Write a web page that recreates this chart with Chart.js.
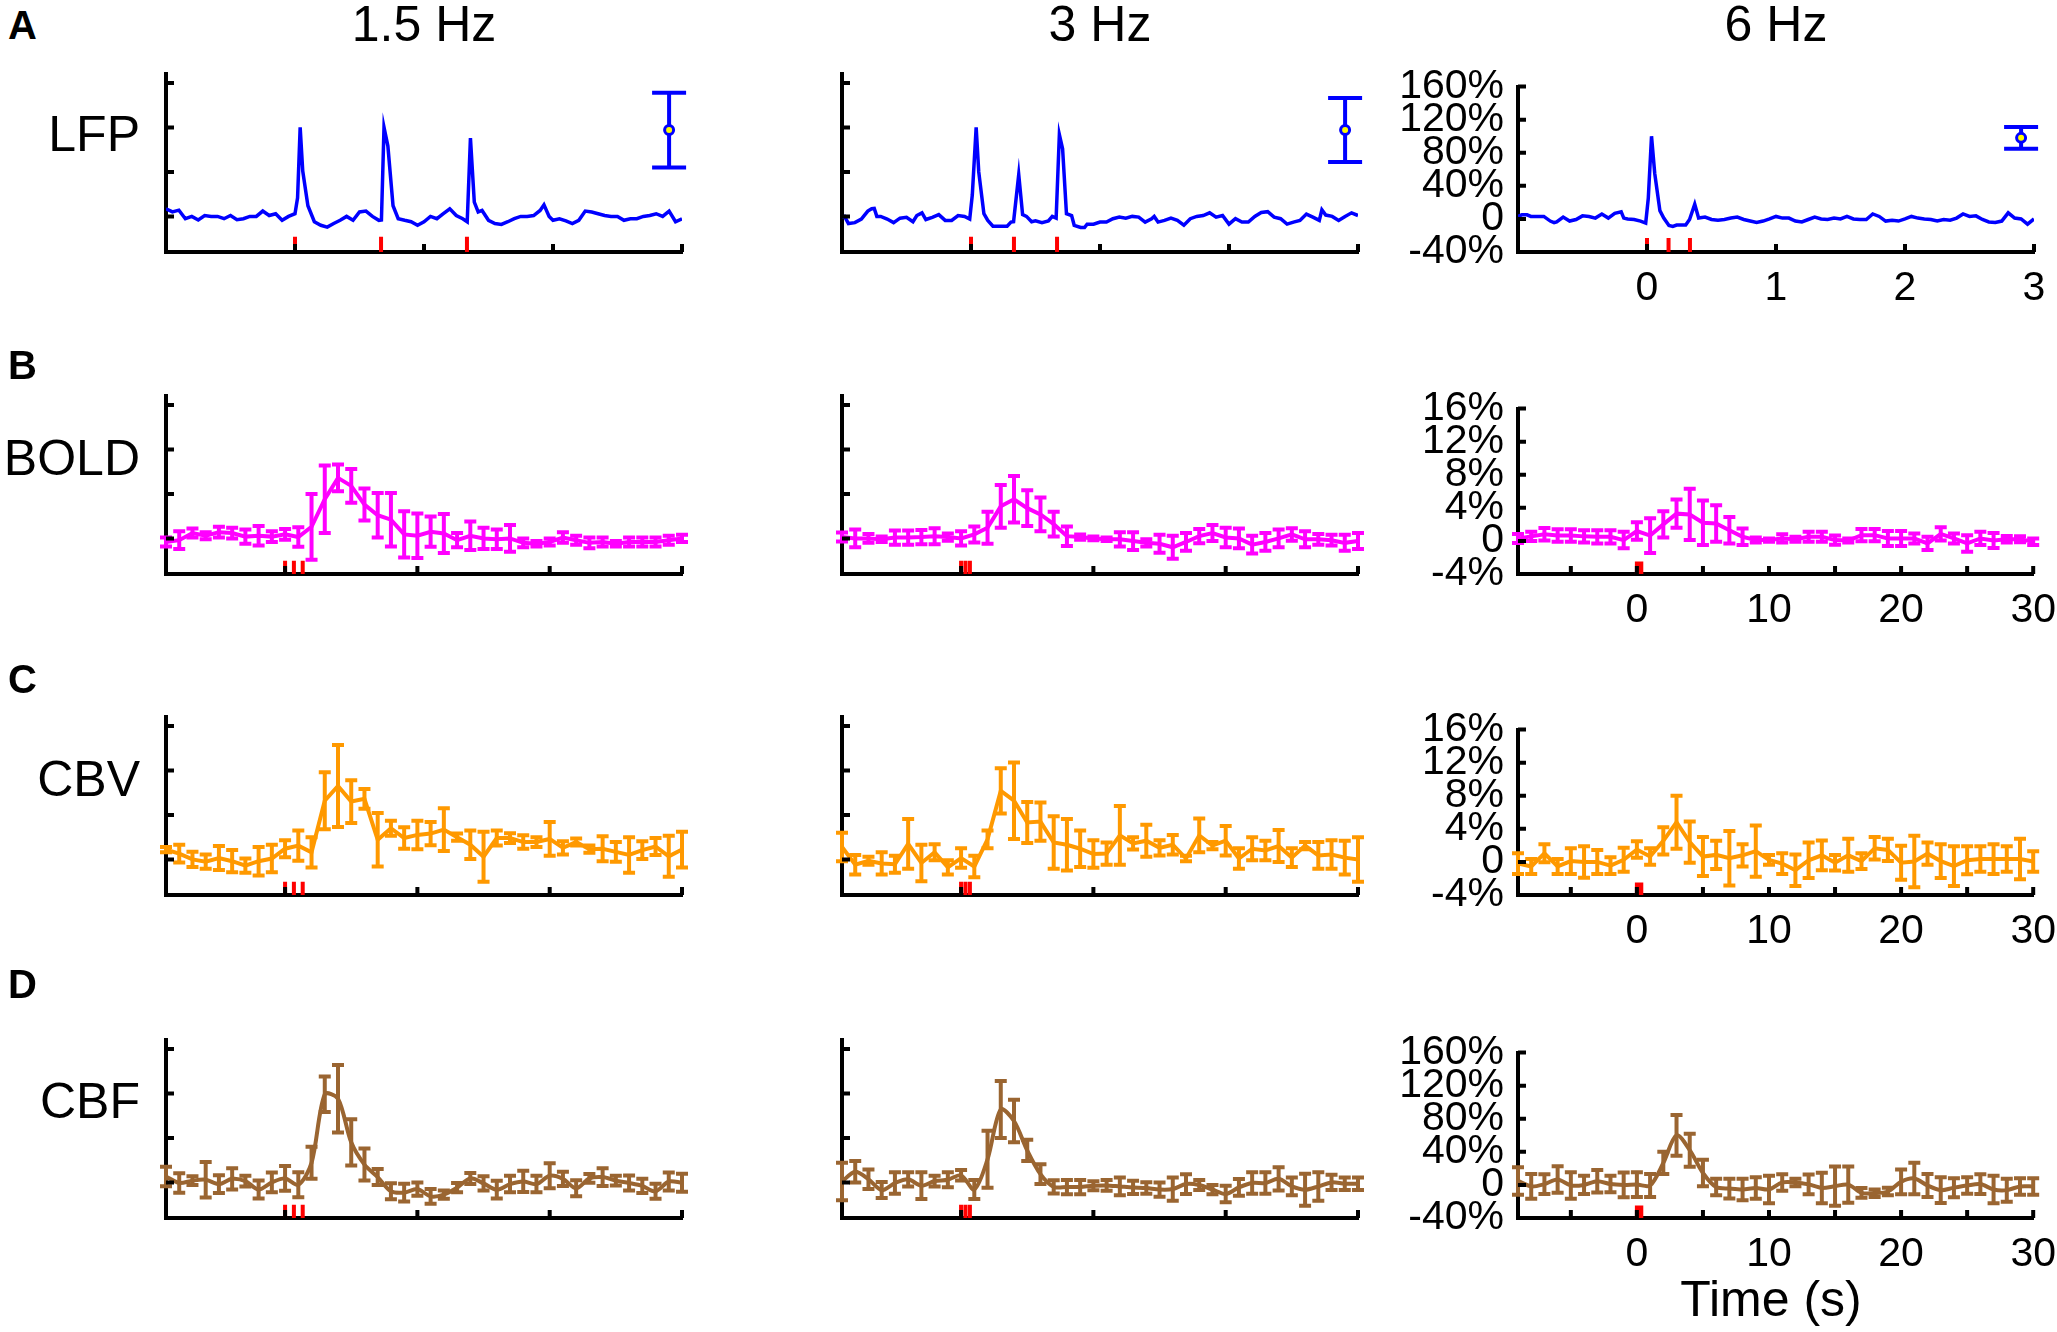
<!DOCTYPE html>
<html>
<head>
<meta charset="utf-8">
<script src="https://cdn.jsdelivr.net/npm/chart.js@4.4.1/dist/chart.umd.min.js"></script>
<style>
  body { margin: 0; background: #fff; width: 2057px; height: 1332px; position: relative; overflow: hidden;
         font-family: "Liberation Sans", Arial, sans-serif; }
  canvas { position: absolute; }
  .lbl { position: absolute; white-space: nowrap; line-height: 1; color: #000; }
  .letter { font-size: 40px; font-weight: bold; left: 8px; }
  .title { font-size: 50px; top: -1px; transform: translateX(-50%); }
  .rowname { font-size: 50px; left: 140px; transform: translateX(-100%); }
</style>
</head>
<body>
<script>
// LFP traces (% change), time in s
const lfpTime15 = [-1, -0.95, -0.9, -0.85, -0.8, -0.75, -0.7, -0.65, -0.6, -0.55, -0.5, -0.45, -0.4, -0.35, -0.3, -0.25, -0.2, -0.15, -0.1, -0.05, 0, 0.02, 0.04, 0.06, 0.1, 0.15, 0.2, 0.25, 0.3, 0.35, 0.4, 0.45, 0.5, 0.55, 0.6, 0.65, 0.67, 0.69, 0.72, 0.76, 0.8, 0.85, 0.9, 0.95, 1, 1.05, 1.1, 1.15, 1.2, 1.25, 1.3, 1.335, 1.36, 1.39, 1.42, 1.45, 1.5, 1.55, 1.6, 1.65, 1.7, 1.75, 1.8, 1.85, 1.9, 1.93, 1.97, 2, 2.05, 2.1, 2.15, 2.2, 2.25, 2.3, 2.35, 2.4, 2.45, 2.5, 2.55, 2.6, 2.65, 2.7, 2.75, 2.8, 2.85, 2.9, 2.95, 3];
const lfp15 = [8.5, 5, 7, -2.6, 0, -4, 1, 0, 0, -2.6, 1, -3.7, -2.6, 0, 0, 6, 1, 3, -4.4, 0, 3, 21, 100, 51, 12, -6, -10, -12, -8, -4.4, 0, -4.4, 5, 6, 0, -4.4, -4, 100, 79, 12, -2.6, -4.4, -6, -10, -6, 0, -2.6, 3, 8.5, 1, -2.6, -6, 88, 16, 5, 6.7, -4.4, -8, -9, -6, -2.6, 0, 0, 1, 6.7, 13, 0, -4.4, -2.6, -5, -8, -4.4, 6, 5, 3, 1, 0, 0, -4.4, -2.6, -2.6, 0, 1, 3, 0, 6, -6, -2.6];

const lfpTime3 = [-1, -0.98, -0.95, -0.9, -0.85, -0.8, -0.77, -0.75, -0.73, -0.7, -0.65, -0.6, -0.55, -0.5, -0.45, -0.42, -0.38, -0.35, -0.3, -0.25, -0.2, -0.15, -0.1, -0.05, -0.01, 0.01, 0.04, 0.06, 0.1, 0.13, 0.17, 0.2, 0.25, 0.28, 0.31, 0.33, 0.37, 0.4, 0.43, 0.47, 0.5, 0.55, 0.6, 0.63, 0.66, 0.685, 0.71, 0.74, 0.78, 0.8, 0.85, 0.88, 0.9, 0.95, 1, 1.05, 1.1, 1.15, 1.2, 1.25, 1.3, 1.35, 1.4, 1.42, 1.45, 1.5, 1.55, 1.6, 1.65, 1.7, 1.75, 1.8, 1.85, 1.9, 1.95, 2, 2.05, 2.1, 2.15, 2.2, 2.25, 2.3, 2.35, 2.4, 2.45, 2.5, 2.55, 2.6, 2.65, 2.7, 2.72, 2.75, 2.8, 2.85, 2.9, 2.95, 3];
const lfp3 = [-1, 0, -8, -7, -3, 6, 8.7, 9, 0, 0, -3, -7, -2, -1, -6, 1, 4, -3.5, -1, 2, -4.5, -4.5, 1, 0, -3, 24, 100, 50, 3, -4.5, -11, -11, -11, -11, -6.4, -6, 47, 2, 0, -6, -5, -7, -5, 0, -2, 92, 76, 3, 1, -10, -12.5, -12.5, -8.7, -8.7, -6.4, -6.4, -2.6, -0.8, -2, 0, -0.8, -6.4, -2.6, 0, -6.4, -4.5, -2, -4.5, -9.8, -2.6, 0, 1, 4, -0.8, 1, -8.7, -2.6, -6.4, -6.4, 0, 4.5, 5.3, -0.8, -2.6, -8.7, -6.4, -4.5, 2.6, -0.8, -4.5, 7.5, 1.5, 0, -4.5, 0, 4, 1];

const lfpTime6 = [-1, -0.97, -0.93, -0.9, -0.85, -0.8, -0.75, -0.72, -0.7, -0.65, -0.6, -0.55, -0.5, -0.45, -0.4, -0.35, -0.3, -0.25, -0.2, -0.18, -0.15, -0.1, -0.05, -0.01, 0.01, 0.035, 0.06, 0.1, 0.13, 0.17, 0.2, 0.23, 0.27, 0.3, 0.33, 0.37, 0.4, 0.45, 0.5, 0.55, 0.6, 0.65, 0.7, 0.75, 0.8, 0.85, 0.9, 0.95, 1, 1.05, 1.1, 1.15, 1.2, 1.25, 1.3, 1.35, 1.4, 1.45, 1.5, 1.55, 1.6, 1.65, 1.7, 1.75, 1.8, 1.85, 1.9, 1.95, 2, 2.05, 2.1, 2.15, 2.2, 2.25, 2.3, 2.35, 2.4, 2.45, 2.5, 2.55, 2.6, 2.65, 2.7, 2.75, 2.8, 2.85, 2.9, 2.95, 3];
const lfp6 = [3, 5, 5, 3, 3, 3, -2.6, -4.4, -3.7, 2.2, -2.6, -0.7, 3.7, 3, 1, 6, 1, 6.7, 8.5, 1, 0, -0.7, -2.6, -5, 25, 100, 55, 10, 1, -8, -9, -7.4, -7.4, -7.4, -0.7, 17.8, 1, 2.2, -0.7, -1.5, -0.7, 1, 2.2, -0.7, -2.6, -4.4, -2.6, 0, 3, 1, 1, -2.6, -3.7, -0.7, 2.2, 0, -0.7, 1, 0, 3, 0, -0.7, -0.7, 6, 3, -2.6, -1.5, -2.6, 0, 3, 1, 0, -0.7, -2.6, -0.7, -1.5, 1, 6, 3, 3.7, -0.7, -3.7, -4.4, -2.6, 7.4, 1, 0, -6.3, 0];

// LFP peak amplitude summary (mean +/- sd), per frequency
const lfpPeakTime = [2.9, 2.9, 2.9];
const lfpPeakMean = [97, 97, 98];
const lfpPeakSd = [42, 36, 13];

// stimulus pulse times (s)
const stim15 = [0, 0.667, 1.333];
const stim3 = [0, 0.333, 0.667];
const stim6 = [0, 0.167, 0.333];

// fMRI time axis (s)
const fmriTime = [-9, -8, -7, -6, -5, -4, -3, -2, -1, 0, 1, 2, 3, 4, 5, 6, 7, 8, 9, 10, 11, 12, 13, 14, 15, 16, 17, 18, 19, 20, 21, 22, 23, 24, 25, 26, 27, 28, 29, 30];

// BOLD (%)
const bold15 = [-0.4, -0.2, 0.6, 0.3, 0.7, 0.6, 0.2, 0.3, 0.2, 0.45, 0.15, 1.3, 4.4, 6.8, 5.9, 3.8, 2.6, 2.1, 0.45, 0.3, 0.75, 0.55, -0.2, 0.3, 0, -0.1, 0, -0.5, -0.6, -0.4, 0.1, -0.2, -0.5, -0.4, -0.6, -0.4, -0.4, -0.4, -0.2, 0];
const bold15Err = [0.5, 1.0, 0.5, 0.4, 0.6, 0.6, 0.8, 1.1, 0.6, 0.6, 1.1, 3.7, 3.8, 1.5, 1.9, 1.8, 2.5, 3.0, 2.6, 2.5, 1.7, 2.2, 0.8, 1.6, 1.2, 1.1, 1.5, 0.5, 0.3, 0.4, 0.6, 0.5, 0.6, 0.5, 0.3, 0.5, 0.5, 0.5, 0.5, 0.4];
const bold3 = [0.15, 0, 0, -0.1, 0.1, 0.1, 0.15, 0.25, 0.15, 0, 0.45, 1.2, 3.6, 4.4, 3.4, 2.7, 1.6, 0.25, 0.15, 0, -0.1, -0.1, -0.3, -0.5, -0.6, -1.0, -0.4, 0.25, 0.6, 0.1, 0, -0.7, -0.4, 0, 0.45, -0.1, -0.1, -0.2, -0.5, -0.3];
const bold3Err = [0.5, 1.0, 0.5, 0.3, 0.8, 0.8, 0.8, 0.9, 0.4, 0.8, 0.9, 1.8, 2.4, 2.6, 2.0, 1.9, 1.4, 1.1, 0.3, 0.2, 0.2, 0.8, 1.0, 0.4, 1.0, 1.3, 1.0, 0.8, 0.9, 1.1, 1.1, 1.0, 1.0, 1.0, 0.7, 0.9, 0.6, 0.6, 0.9, 0.9];
const bold6 = [0.3, 0.55, 0.8, 0.65, 0.65, 0.55, 0.5, 0.5, 0.1, 1.2, 0.65, 2.0, 3.3, 3.2, 2.2, 2.1, 1.3, 0.5, 0.1, 0.1, 0.3, 0.2, 0.5, 0.5, 0.1, 0.05, 0.7, 0.7, 0.3, 0.3, 0.3, -0.3, 0.85, 0.3, -0.3, 0.3, 0.05, 0.2, 0.2, -0.1];
const bold6Err = [0.55, 0.55, 0.75, 0.75, 0.75, 0.75, 0.8, 0.8, 1.0, 1.05, 2.1, 1.6, 1.7, 3.1, 2.7, 2.2, 1.6, 1.0, 0.3, 0.2, 0.5, 0.3, 0.6, 0.6, 0.55, 0.25, 0.75, 0.75, 0.9, 0.9, 0.6, 0.8, 0.8, 0.6, 1.0, 0.8, 0.9, 0.4, 0.35, 0.4];

// CBV (%)
const cbv15 = [1.1, 0.65, 0, -0.25, 0.15, -0.2, -0.7, -0.2, 0.1, 1.2, 1.55, 0.8, 6.6, 8.25, 6.5, 6.8, 2.2, 3.5, 2.4, 2.75, 2.9, 3.35, 2.5, 1.65, 0.3, 2.4, 2.4, 1.95, 1.95, 2.3, 1.3, 1.95, 1.15, 1.2, 0.85, 0.5, 1.05, 1.45, 0.35, 1.1];
const cbv15Err = [0.3, 1.0, 0.85, 0.8, 1.35, 1.25, 0.8, 1.6, 1.55, 0.95, 1.7, 1.7, 3.2, 4.6, 2.4, 1.1, 3.0, 0.85, 1.2, 1.6, 1.3, 2.4, 0.4, 1.6, 2.8, 0.85, 0.55, 0.75, 0.55, 1.9, 0.75, 0.4, 0.4, 1.4, 1.1, 2.0, 1.0, 0.95, 2.3, 2.0];
const cbv3 = [1.4, -0.6, -0.15, -0.45, -0.55, 1.75, -0.4, 0.8, -0.9, 0.15, -0.8, 2.25, 7.7, 6.6, 4.15, 4.25, 1.9, 1.65, 1.2, 0.6, 0.65, 2.7, 1.8, 2.1, 1.3, 1.65, 0.1, 2.7, 1.55, 2.1, 0.1, 1.2, 1.0, 1.5, 0.2, 1.55, 0.45, 0.55, 0.2, 0];
const cbv3Err = [1.6, 1.1, 0.45, 1.25, 0.95, 2.8, 2.05, 0.9, 0.8, 1.1, 1.2, 1.0, 2.55, 4.3, 2.3, 2.15, 2.95, 2.9, 2.05, 1.55, 1.25, 3.3, 0.7, 1.8, 0.85, 1.1, 0.3, 1.9, 0.4, 1.65, 1.15, 1.3, 1.1, 1.8, 1.05, 0.4, 1.5, 1.6, 1.9, 2.5];
const cbv6 = [-0.2, -0.55, 1.05, -0.55, 0.1, 0, 0, -0.45, 0.25, 1.5, 0.65, 2.55, 4.8, 2.4, 0.65, 0.85, 0.45, 0.8, 1.3, 0.25, -0.2, -1.0, 0.2, 0.8, -0.1, 0.8, 0.1, 1.65, 1.45, -0.1, 0.05, 1.0, 0.1, -0.5, 0.2, 0.35, 0.35, 0.35, 0.35, 0.05];
const cbv6Err = [1.25, 0.9, 1.1, 0.9, 1.55, 1.9, 1.45, 1.0, 1.45, 1.0, 1.0, 1.65, 3.2, 2.5, 2.35, 1.7, 3.3, 1.35, 3.1, 0.6, 1.25, 1.9, 2.15, 1.8, 0.95, 2.0, 0.95, 1.35, 1.35, 2.05, 3.1, 1.35, 2.05, 2.4, 1.7, 1.55, 1.8, 1.55, 2.45, 1.25];

// CBF (%)
const cbf15 = [6.7, -0.7, 2, 3, -2, 4, 1.5, -8, 0, 4.5, -2.6, 22, 99, 94, 45, 20, 6, -10, -11.5, -7.5, -15.7, -13.8, -6, 4.5, -1.1, -8.2, -1.9, 1.1, -1.9, 7.5, 4, -6.7, 4.5, 6, 2, -0.7, -4, -10, 1, -0.4];
const cbf15Err = [11, 11, 5, 20, 10, 12, 6, 10, 11, 14, 14, 18, 20, 38, 26, 18, 9, 9, 10, 7.5, 8.4, 4.7, 5.2, 6.2, 8, 10, 9.3, 12, 9.3, 14, 8, 9, 5, 10, 5.6, 8.4, 8, 8.4, 10, 10];
const cbf3 = [1, 12, 3.5, -8.6, -0.7, 3.5, -3.7, 1.5, 3, 8, -8, 26, 82, 69, 36, 9.3, -5, -5.2, -5.2, -3.7, -3.4, -4.5, -5.6, -6.3, -8, -7.5, -1.9, -3, -8, -13, -5.6, -0.7, -0.7, 4, -4.5, -8.2, -4.5, 0, -1.5, -1.5];
const cbf3Err = [21, 12, 11, 9, 12, 8, 15, 6, 8.4, 6, 10.6, 32, 32, 24, 12, 11, 7.5, 8, 8, 5, 6, 10, 7.5, 6.5, 8, 13, 11, 5.6, 5.2, 9.3, 9.3, 12, 12, 13, 10, 18, 16, 8.6, 7, 7];
const cbf6 = [4.8, -1.8, 1, 6.6, -0.7, 0, 4.4, 1, 0, 0.4, -0.7, 26.6, 60, 42, 14.4, -2.6, -4.4, -5.5, -3.7, -5.5, 3, 3, 0.7, -3.7, -1.5, 0.4, -9.6, -10, -8, 3.7, 7.8, -0.7, -6.3, -3.3, -0.7, 1, -5.5, -6.3, -1.8, -1.8];
const cbf6Err = [16.6, 15, 12, 16, 16, 11, 13.5, 10, 15, 15, 14, 13.5, 24.6, 20, 16, 10, 12, 13, 13, 16.6, 10, 4.6, 12, 18.5, 23.7, 22, 6, 4.6, 4.6, 15, 19, 14, 15.7, 11.5, 10, 12, 16.6, 13.9, 10, 10];

// tick values
const lfpTickMarks = [0, 50, 100, 150];
const pctTickMarks = [0, 5, 10, 15];
const lfpTickLabels = [-40, 0, 40, 80, 120, 160];
const pctTickLabels = [-4, 0, 4, 8, 12, 16];
const lfpXTicks = [0, 1, 2, 3];
const fmriXTicks = [0, 10, 20, 30];
const fmriXTicksFine = [-5, 0, 5, 10, 15, 20, 25, 30];

const freqTitles = ['1.5 Hz', '3 Hz', '6 Hz'];
const rowNames = ['LFP', 'BOLD', 'CBV', 'CBF'];
const rowLetters = ['A', 'B', 'C', 'D'];

// ---- layout ----
const colLeft = [166, 842, 1518];
const rowTop = [74, 396, 717, 1040];
const plotW = 516, plotH = 178;
const padL = 130, padT = 26, padR = 34, padB = 70;
const FONT = '"Liberation Sans", Arial, sans-serif';
const LW = 4;

const stims = [stim15, stim3, stim6];

const rows = [
  { name: 'lfp', color: '#0000ff', t: [lfpTime15, lfpTime3, lfpTime6], v: [lfp15, lfp3, lfp6], e: null,
    yMin: -40, yMax: 160, marks: lfpTickMarks, marks3: [0, 40, 80, 120, 160], labels: lfpTickLabels,
    xMin: -1, xMax: 3, xTicks: lfpXTicks, xTicks3: lfpXTicks, stimH: 17, lw: 3.5, tension: 0 },
  { name: 'bold', color: '#ff00ff', t: [fmriTime, fmriTime, fmriTime], v: [bold15, bold3, bold6], e: [bold15Err, bold3Err, bold6Err],
    yMin: -4, yMax: 16, marks: pctTickMarks, marks3: [0, 4, 8, 12, 16], labels: pctTickLabels,
    xMin: -9, xMax: 30, xTicks: fmriXTicks, xTicks3: fmriXTicksFine, stimH: 1.5, lw: LW, tension: 0 },
  { name: 'cbv', color: '#ff9900', t: [fmriTime, fmriTime, fmriTime], v: [cbv15, cbv3, cbv6], e: [cbv15Err, cbv3Err, cbv6Err],
    yMin: -4, yMax: 16, marks: pctTickMarks, marks3: [0, 4, 8, 12, 16], labels: pctTickLabels,
    xMin: -9, xMax: 30, xTicks: fmriXTicks, xTicks3: fmriXTicksFine, stimH: 1.5, lw: LW, tension: 0 },
  { name: 'cbf', color: '#9a6531', t: [fmriTime, fmriTime, fmriTime], v: [cbf15, cbf3, cbf6], e: [cbf15Err, cbf3Err, cbf6Err],
    yMin: -40, yMax: 160, marks: lfpTickMarks, marks3: [0, 40, 80, 120, 160], labels: lfpTickLabels,
    xMin: -9, xMax: 30, xTicks: fmriXTicks, xTicks3: fmriXTicksFine, stimH: 15, lw: LW, tension: 0.3 }
];

// error bars drawn under the lines/markers
const errorBars = {
  id: 'errorBars',
  beforeDatasetsDraw(chart) {
    const ctx = chart.ctx, ys = chart.scales.y;
    chart.data.datasets.forEach((ds, i) => {
      if (!ds.errors) return;
      const meta = chart.getDatasetMeta(i);
      const cap = (ds.capW || 12) / 2;
      ctx.save();
      ctx.strokeStyle = ds.barColor;
      ctx.lineWidth = LW;
      ctx.beginPath();
      meta.data.forEach((pt, j) => {
        const v = ds.data[j].y, err = ds.errors[j];
        const top = ys.getPixelForValue(v + err), bot = ys.getPixelForValue(v - err);
        ctx.moveTo(pt.x, top); ctx.lineTo(pt.x, bot);
        ctx.moveTo(pt.x - cap, top); ctx.lineTo(pt.x + cap, top);
        ctx.moveTo(pt.x - cap, bot); ctx.lineTo(pt.x + cap, bot);
      });
      ctx.stroke();
      ctx.restore();
    });
  }
};

// inward tick marks, matlab style
function tickMarks(xVals, yVals) {
  return {
    id: 'tickMarks',
    afterDraw(chart) {
      const { ctx, chartArea: a, scales: { x, y } } = chart;
      ctx.save();
      ctx.strokeStyle = '#000';
      ctx.lineWidth = LW;
      ctx.beginPath();
      xVals.forEach(v => { const px = x.getPixelForValue(v); ctx.moveTo(px, a.bottom); ctx.lineTo(px, a.bottom - 8); });
      yVals.forEach(v => { const py = y.getPixelForValue(v); ctx.moveTo(a.left, py); ctx.lineTo(a.left + 8, py); });
      ctx.stroke();
      ctx.restore();
    }
  };
}

function pctLabel(v) { return v === 0 ? '0' : v + '%'; }

function makePanel(r, c) {
  const row = rows[r];
  const last = c === 2;
  const canvas = document.createElement('canvas');
  canvas.width = padL + plotW + padR;
  canvas.height = padT + plotH + padB;
  canvas.style.left = (colLeft[c] - padL) + 'px';
  canvas.style.top = (rowTop[r] - padT) + 'px';
  document.body.appendChild(canvas);

  const times = row.t[c], vals = row.v[c];
  const datasets = [];

  const stimData = [];
  stims[c].forEach(s => {
    stimData.push({ x: s, y: row.yMin }, { x: s, y: row.yMin + row.stimH }, { x: s, y: null });
  });
  datasets.push({ data: stimData, borderColor: '#ff0000', borderWidth: 4, pointRadius: 0, spanGaps: false });

  datasets.push({
    data: times.map((t, i) => ({ x: t, y: vals[i] })),
    borderColor: row.color, barColor: row.color, borderWidth: row.lw, pointRadius: 0,
    tension: row.tension, errors: row.e ? row.e[c] : null
  });

  if (r === 0) {
    datasets.push({
      data: [{ x: lfpPeakTime[c], y: lfpPeakMean[c] }], errors: [lfpPeakSd[c]], capW: 34,
      showLine: false, barColor: row.color, borderColor: row.color,
      pointRadius: 4.5, pointBackgroundColor: '#ffff00', pointBorderColor: row.color, pointBorderWidth: 3
    });
  }

  new Chart(canvas, {
    type: 'line',
    data: { datasets },
    options: {
      responsive: false,
      animation: false,
      events: [],
      layout: { autoPadding: false, padding: { top: padT, right: padR, left: 0, bottom: 0 } },
      plugins: { legend: { display: false }, tooltip: { enabled: false } },
      scales: {
        x: {
          type: 'linear', min: row.xMin, max: row.xMax,
          grid: { display: false, drawTicks: false },
          border: { display: true, color: '#000', width: LW },
          ticks: { display: last, color: '#000', font: { family: FONT, size: 41 }, padding: 12,
                   maxRotation: 0, autoSkip: false, callback: v => String(v) },
          afterBuildTicks: s => { s.ticks = row.xTicks.map(v => ({ value: v })); },
          afterFit: s => { s.height = padB; }
        },
        y: {
          type: 'linear', min: row.yMin, max: row.yMax,
          grid: { display: false, drawTicks: false },
          border: { display: true, color: '#000', width: LW },
          ticks: { display: last, color: '#000', font: { family: FONT, size: 41 }, padding: 14,
                   autoSkip: false, callback: pctLabel },
          afterBuildTicks: s => { s.ticks = row.labels.map(v => ({ value: v })); },
          afterFit: s => { s.width = padL; }
        }
      }
    },
    plugins: [errorBars, tickMarks(last ? row.xTicks3 : row.xTicks, last ? row.marks3 : row.marks)]
  });
}

for (let r = 0; r < 4; r++) {
  for (let c = 0; c < 3; c++) makePanel(r, c);
}

// text
function addText(cls, txt, left, top) {
  const d = document.createElement('div');
  d.className = 'lbl ' + cls;
  d.textContent = txt;
  if (left !== null) d.style.left = left + 'px';
  d.style.top = top + 'px';
  document.body.appendChild(d);
}
const letterTop = [5, 345, 659, 964];
const nameTop = [109, 433, 754, 1076];
rowLetters.forEach((l, i) => addText('letter', l, null, letterTop[i]));
rowNames.forEach((n, i) => addText('rowname', n, null, nameTop[i]));
freqTitles.forEach((t, i) => addText('title', t, colLeft[i] + plotW / 2, -1));
addText('title', 'Time (s)', colLeft[2] + plotW / 2 - 5, 1274);
</script>
</body>
</html>
